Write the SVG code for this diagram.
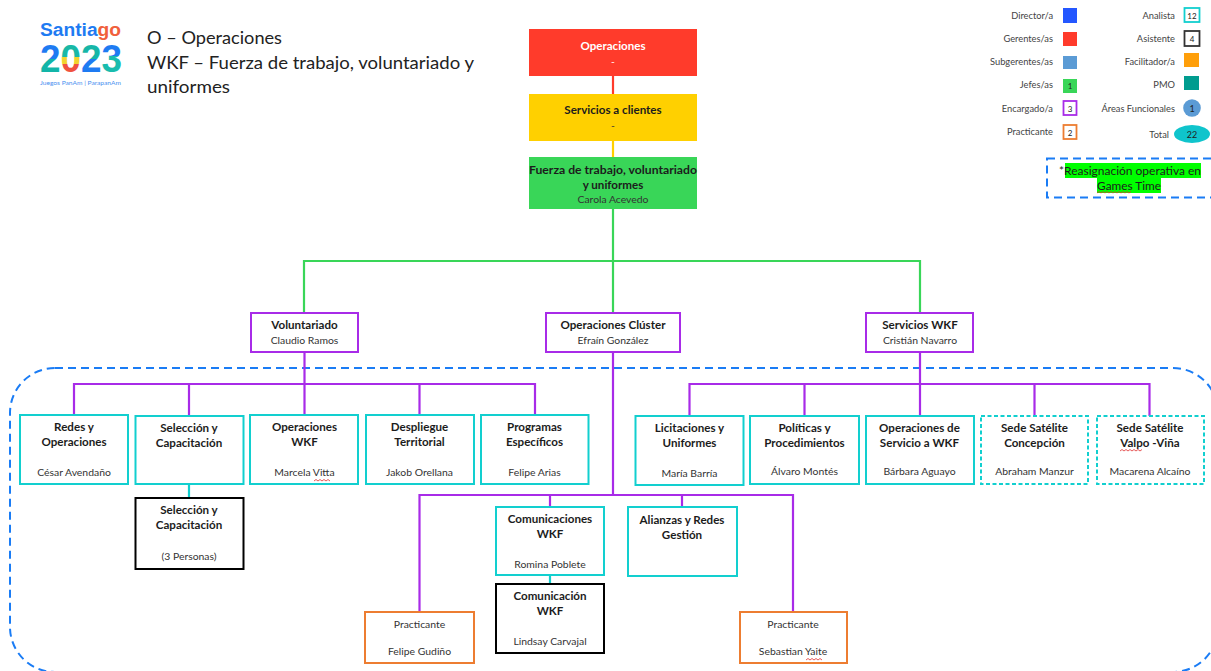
<svg xmlns="http://www.w3.org/2000/svg" width="1211" height="671" viewBox="0 0 1211 671">
<defs>
<linearGradient id="g2a" x1="0" y1="0" x2="0" y2="1"><stop offset="0.5" stop-color="#1e7bf2"/><stop offset="0.5" stop-color="#12b5a8"/></linearGradient>
<linearGradient id="g0" x1="0" y1="0" x2="0" y2="1"><stop offset="0.45" stop-color="#19b8a6"/><stop offset="0.45" stop-color="#f2d22e"/><stop offset="0.62" stop-color="#f2d22e"/><stop offset="0.62" stop-color="#f0513f"/></linearGradient>
<linearGradient id="g3" x1="0" y1="0" x2="0" y2="1"><stop offset="0.42" stop-color="#1e7bf2"/><stop offset="0.42" stop-color="#19bcae"/></linearGradient>
<linearGradient id="g2b" x1="0" y1="0" x2="0" y2="1"><stop offset="0.5" stop-color="#16b6a8"/><stop offset="0.5" stop-color="#1e7bf2"/></linearGradient>
</defs>
<style>
text{font-family:Lato,"Liberation Sans",Arial,sans-serif;text-anchor:middle;fill:#1c1c1c}
.b{font-weight:700;font-size:11.6px}
.r{font-size:10.4px;fill:#333}
.l{font-size:9.3px;text-anchor:end;fill:#444}
.n{font-size:8px;fill:#222}
.t{font-size:17.4px;text-anchor:start;fill:#222}
.box{fill:#fff;stroke-width:2}
.cy{stroke:#12cfcf}.bk{stroke:#000}.or{stroke:#ed7d31}.pu{stroke:#a82be8}
.d{stroke-dasharray:4 2.5}
.c{fill:none;stroke-width:2.2}
.sq{fill:none;stroke:#e03030;stroke-width:.8}
.dash{fill:none;stroke:#1a7cf5;stroke-width:2;stroke-dasharray:8 5}
</style>
<g id="logo">
<text x="40" y="36" style="font-size:19.2px;font-weight:700;text-anchor:start;font-family:'Liberation Sans',sans-serif"><tspan fill="#1e7bf2">Santia</tspan><tspan fill="#f0603c">go</tspan></text>
<text x="81" y="72" style="font-size:38px;font-weight:700;font-family:'Liberation Sans',sans-serif" textLength="82" lengthAdjust="spacingAndGlyphs"><tspan fill="url(#g2a)">2</tspan><tspan fill="url(#g0)">0</tspan><tspan fill="url(#g2b)">2</tspan><tspan fill="url(#g3)">3</tspan></text>
<text x="80.500" y="85" style="font-size:6.500px;fill:#4a90f0" textLength="81" lengthAdjust="spacingAndGlyphs">Juegos PanAm | ParapanAm</text>
</g>
<g id="titulo">
<text class="t" x="147" y="44" textLength="135" lengthAdjust="spacingAndGlyphs">O – Operaciones</text>
<text class="t" x="147" y="69" textLength="327" lengthAdjust="spacingAndGlyphs">WKF – Fuerza de trabajo, voluntariado y</text>
<text class="t" x="147" y="93" textLength="83" lengthAdjust="spacingAndGlyphs">uniformes</text>
</g>
<rect id="agrupacion" class="dash" x="10" y="368" width="1208" height="304" rx="45"/>
<g id="connectors">
<path class="c" stroke="#ff3b2b" d="M613 76V94"/>
<path class="c" stroke="#ffd000" d="M613 141V157"/>
<path class="c" stroke="#39d658" d="M613 209V313M304 313V261H920V313"/>
<path class="c pu" d="M304.500 352V415M74 415V384H535V415M189 384V416M419.500 384V415"/>
<path class="c pu" d="M613 352V495M419.500 612V495H793V612M550 495V507M682 495V507"/>
<path class="c pu" d="M920 352V416M689.500 416V384H1149.500V416M804.500 384V416M1034.500 384V416"/>
<path class="c cy" d="M189 484V498M550 575V584"/>
</g>
<g id="n-operaciones"><rect x="529" y="29" width="168" height="47" fill="#ff3b2b"/><text class="b" x="613" y="50" style="fill:#fff">Operaciones</text><text class="r" x="613" y="65" style="fill:#fff">-</text></g>
<g id="n-servicios"><rect x="529" y="94" width="168" height="47" fill="#ffd000"/><text class="b" x="613" y="114">Servicios a clientes</text><text class="r" x="613" y="129">-</text></g>
<g id="n-fuerza"><rect x="529" y="157" width="168" height="52" fill="#39d658"/><text class="b" x="613" y="174" textLength="168" lengthAdjust="spacingAndGlyphs">Fuerza de trabajo,  voluntariado</text><text class="b" x="613" y="189">y uniformes</text><text class="r" x="613" y="203">Carola Acevedo</text></g>
<g id="n-voluntariado"><rect class="box pu" x="251" y="313" width="107" height="39"/><text class="b" x="304.500" y="329">Voluntariado</text><text class="r" x="304.500" y="344">Claudio Ramos</text></g>
<g id="n-cluster"><rect class="box pu" x="546" y="313" width="134" height="39"/><text class="b" x="613" y="329">Operaciones Clúster</text><text class="r" x="613" y="344">Efraín González</text></g>
<g id="n-servwkf"><rect class="box pu" x="866" y="313" width="107" height="39"/><text class="b" x="920" y="329">Servicios WKF</text><text class="r" x="920" y="344">Cristián Navarro</text></g>

<g id="n-redes"><rect class="box cy" x="20" y="415" width="108" height="69"/><text class="b" x="74" y="431">Redes y</text><text class="b" x="74" y="446">Operaciones</text><text class="r" x="74" y="476">César Avendaño</text></g>
<g id="n-seleccion"><rect class="box cy" x="135.500" y="416" width="108" height="68"/><text class="b" x="189" y="432">Selección y</text><text class="b" x="189" y="447">Capacitación</text></g>
<g id="n-opwkf"><rect class="box cy" x="250" y="415" width="108" height="69"/><text class="b" x="304.500" y="431">Operaciones</text><text class="b" x="304.500" y="446">WKF</text><text class="r" x="304.500" y="476">Marcela Vitta</text><path class="sq" d="M314 481l2-1.500 2 1.500 2-1.500 2 1.500 2-1.500 2 1.500 2-1.500 2 1.500"/></g>
<g id="n-despliegue"><rect class="box cy" x="366" y="415" width="108" height="69"/><text class="b" x="419.500" y="431">Despliegue</text><text class="b" x="419.500" y="446">Territorial</text><text class="r" x="419.500" y="476">Jakob Orellana</text></g>
<g id="n-programas"><rect class="box cy" x="481" y="415" width="107.500" height="69"/><text class="b" x="534.500" y="431">Programas</text><text class="b" x="534.500" y="446">Específicos</text><text class="r" x="534.500" y="476">Felipe Arias</text></g>
<g id="n-seleccion2"><rect class="box bk" x="135.500" y="498" width="108" height="71"/><text class="b" x="189" y="514">Selección y</text><text class="b" x="189" y="529">Capacitación</text><text class="r" x="189" y="560">(3 Personas)</text></g>
<g id="n-prac1"><rect class="box or" x="365" y="612" width="109" height="51"/><text class="r" x="419.500" y="628">Practicante</text><text class="r" x="419.500" y="655">Felipe Gudiño</text></g>
<g id="n-comunicaciones"><rect class="box cy" x="496" y="507" width="108" height="68"/><text class="b" x="550" y="523">Comunicaciones</text><text class="b" x="550" y="538">WKF</text><text class="r" x="550" y="568">Romina Poblete</text></g>
<g id="n-comunicacion"><rect class="box bk" x="496" y="584" width="108" height="69"/><text class="b" x="550" y="600">Comunicación</text><text class="b" x="550" y="615">WKF</text><text class="r" x="550" y="645">Lindsay Carvajal</text></g>
<g id="n-alianzas"><rect class="box cy" x="628" y="507" width="109" height="69"/><text class="b" x="682" y="524">Alianzas y Redes</text><text class="b" x="682" y="539">Gestión</text></g>
<g id="n-prac2"><rect class="box or" x="740" y="612" width="107" height="51"/><text class="r" x="793" y="628">Practicante</text><text class="r" x="793" y="655">Sebastian Yaite</text><path class="sq" d="M806 660l2-1.500 2 1.500 2-1.500 2 1.500 2-1.500 2 1.500 2-1.500 2 1.500"/></g>
<g id="n-licitaciones"><rect class="box cy" x="635.500" y="416" width="108" height="69"/><text class="b" x="689.500" y="432">Licitaciones y</text><text class="b" x="689.500" y="447">Uniformes</text><text class="r" x="689.500" y="477">María Barría</text></g>
<g id="n-politicas"><rect class="box cy" x="750" y="416" width="109" height="68"/><text class="b" x="804.500" y="432">Políticas y</text><text class="b" x="804.500" y="447">Procedimientos</text><text class="r" x="804.500" y="475">Álvaro Montés</text></g>
<g id="n-opserv"><rect class="box cy" x="866" y="416" width="108" height="68"/><text class="b" x="919.500" y="432">Operaciones de</text><text class="b" x="919.500" y="447">Servicio a WKF</text><text class="r" x="919.500" y="475">Bárbara Aguayo</text></g>
<g id="n-sede1"><rect class="box cy d" x="981" y="416" width="107" height="68"/><text class="b" x="1034.500" y="432">Sede Satélite</text><text class="b" x="1034.500" y="447">Concepción</text><text class="r" x="1034.500" y="475">Abraham Manzur</text></g>
<g id="n-sede2"><rect class="box cy d" x="1097" y="416" width="107" height="68"/><text class="b" x="1150" y="432">Sede Satélite</text><text class="b" x="1150" y="447">Valpo -Viña</text><text class="r" x="1150" y="475">Macarena Alcaíno</text><path class="sq" d="M1120 451l2-1.500 2 1.500 2-1.500 2 1.500 2-1.500 2 1.500 2-1.500 2 1.500 2-1.500 2 1.500 2-1.500"/></g>

<g id="leyenda">
<text class="l" x="1053" y="19">Director/a</text><rect x="1063" y="8" width="14" height="15" fill="#2457ff"/>
<text class="l" x="1053" y="42">Gerentes/as</text><rect x="1063" y="32" width="14" height="14" fill="#ff3b2b"/>
<text class="l" x="1053" y="65">Subgerentes/as</text><rect x="1063" y="56" width="14" height="13" fill="#5b9bd5"/>
<text class="l" x="1053" y="88">Jefes/as</text><rect x="1063" y="79" width="14" height="14" fill="#39d658"/><text class="n" x="1070" y="89">1</text>
<text class="l" x="1053" y="112">Encargado/a</text><rect x="1063.500" y="101" width="13" height="14" fill="#fff" stroke="#a82be8" stroke-width="1.800"/><text class="n" x="1070" y="112">3</text>
<text class="l" x="1053" y="135">Practicante</text><rect x="1063.500" y="125" width="13" height="14" fill="#fff" stroke="#ed7d31" stroke-width="1.800"/><text class="n" x="1070" y="136">2</text>
<text class="l" x="1175" y="19">Analista</text><rect x="1184.500" y="8" width="15" height="14" fill="#fff" stroke="#12cfcf" stroke-width="1.800"/><text class="n" x="1192" y="19">12</text>
<text class="l" x="1175" y="42">Asistente</text><rect x="1184.500" y="31" width="15" height="15" fill="#fff" stroke="#333" stroke-width="1.800"/><text class="n" x="1192" y="42">4</text>
<text class="l" x="1175" y="65">Facilitador/a</text><rect x="1184" y="53" width="15" height="14" fill="#ff9f0a"/>
<text class="l" x="1175" y="88">PMO</text><rect x="1184" y="76" width="15" height="14" fill="#009c8f"/>
<text class="l" x="1175" y="112">Áreas Funcionales</text><circle cx="1192" cy="108" r="8.800" fill="#5b9bd5"/><text class="n" x="1192" y="112" style="font-size:9px">1</text>
<text class="l" x="1169" y="138">Total</text><ellipse cx="1192" cy="134" rx="18" ry="9" fill="#0fc4cc"/><text class="n" x="1192" y="138" style="font-size:9px">22</text>
</g>
<g id="nota">
<rect class="dash" x="1047" y="158.500" width="170" height="39"/>
<rect x="1065" y="163" width="136" height="15" fill="#0f0"/><rect x="1097" y="178" width="64" height="15" fill="#0f0"/>
<text x="1130" y="174.500" style="font-size:11.800px" textLength="142" lengthAdjust="spacingAndGlyphs">*Reasignación operativa en</text>
<text x="1129" y="189.500" style="font-size:11.800px">Games Time</text>
<path class="sq" d="M1097 193l2-1.500 2 1.500 2-1.500 2 1.500 2-1.500 2 1.500 2-1.500 2 1.500 2-1.500 2 1.500 2-1.500 2 1.500 2-1.500 2 1.500 2-1.500 2 1.500 2-1.500"/>
</g>
</svg>
